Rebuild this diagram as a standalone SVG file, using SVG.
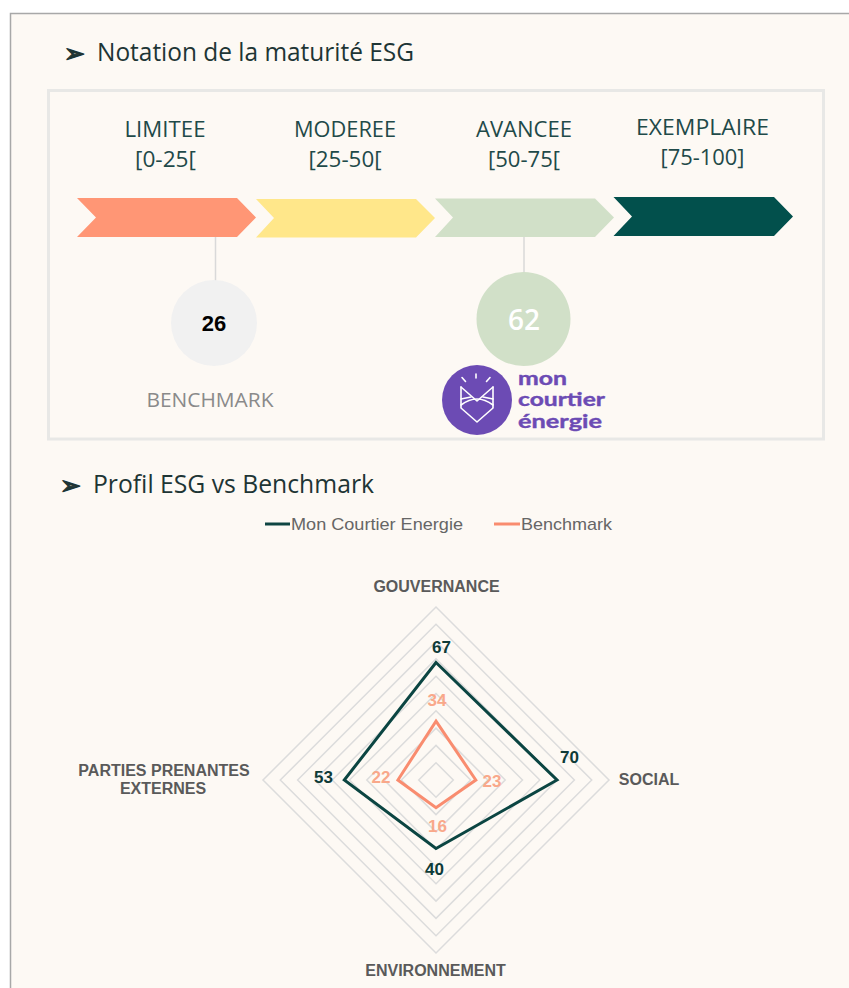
<svg xmlns="http://www.w3.org/2000/svg" width="849" height="988" viewBox="0 0 849 988">
<style>
.h{font-family:"Open Sans","Liberation Sans",sans-serif;font-size:25px;fill:#1e3535}
.bul{font-family:"DejaVu Sans",sans-serif;font-size:25px;fill:#1e3535;stroke:#1e3535;stroke-width:1.2;stroke-linejoin:round}
.cat{font-family:"Open Sans","Liberation Sans",sans-serif;font-size:22px;fill:#1f4a49;text-anchor:middle}
.ax{font-family:"Liberation Sans",Arial,sans-serif;font-weight:bold;font-size:16px;fill:#5a5a5a;text-anchor:middle}
.vd{font-family:"Liberation Sans",Arial,sans-serif;font-weight:bold;font-size:17px;fill:#0e3b38;text-anchor:middle}
.vb{font-family:"Liberation Sans",Arial,sans-serif;font-weight:bold;font-size:17px;fill:#f9a88a;text-anchor:middle}
.leg{font-family:"Liberation Sans",Arial,sans-serif;font-size:17px;fill:#666666}
.ring{fill:none;stroke:#dcdcdc;stroke-width:1.5}
.conn{stroke:#d9d9d9;stroke-width:1.5;fill:none}
.logo{font-family:"Lato","Liberation Sans",sans-serif;font-weight:bold;font-size:19px;fill:#6c4bb4;stroke:#6c4bb4;stroke-width:0.4}
</style>
<rect x="0" y="0" width="849" height="988" fill="#ffffff"/>
<rect x="10.5" y="13.5" width="839" height="975" fill="#fdf9f4"/>
<path d="M10.5,988 V13.5 H849" fill="none" stroke="#a8a8a8" stroke-width="1.5"/>

<g id="title-notation">
<text class="bul" x="64" y="62">➢</text>
<text class="h" x="97" y="61" textLength="317" lengthAdjust="spacingAndGlyphs">Notation de la maturité ESG</text>
</g>

<rect id="scale-box" x="48.5" y="90.5" width="775" height="348.5" fill="#fdf9f4" stroke="#e8e8e6" stroke-width="3"/>

<g id="labels-scale">
<text class="cat" x="165" y="137" textLength="81" lengthAdjust="spacingAndGlyphs">LIMITEE</text>
<text class="cat" x="165.5" y="167" textLength="61" lengthAdjust="spacingAndGlyphs">[0-25[</text>
<text class="cat" x="345" y="137" textLength="102" lengthAdjust="spacingAndGlyphs">MODEREE</text>
<text class="cat" x="345" y="167" textLength="73" lengthAdjust="spacingAndGlyphs">[25-50[</text>
<text class="cat" x="524" y="137" textLength="96" lengthAdjust="spacingAndGlyphs">AVANCEE</text>
<text class="cat" x="524" y="167" textLength="72" lengthAdjust="spacingAndGlyphs">[50-75[</text>
<text class="cat" x="702.5" y="135" textLength="133" lengthAdjust="spacingAndGlyphs">EXEMPLAIRE</text>
<text class="cat" x="702.5" y="165" textLength="84" lengthAdjust="spacingAndGlyphs">[75-100]</text>
</g>

<g id="chevron-limitee"><path d="M77,198 H237 L256,217.5 L237,237 H77 L96,217.5 Z" fill="#ff9675"/></g>
<g id="chevron-moderee"><path d="M256,199 H416 L435,218 L416,237.5 H256 L274,218 Z" fill="#ffe78a"/></g>
<g id="chevron-avancee"><path d="M435,198.5 H595 L614,217.5 L595,237 H435 L453,217.5 Z" fill="#d1e0c8"/></g>
<g id="chevron-exemplaire"><path d="M613.5,197 H774 L793,216.5 L774,236 H613.5 L632,216.5 Z" fill="#02504c"/></g>

<g id="connectors">
<line class="conn" x1="215.5" y1="237" x2="215.5" y2="281"/>
<line class="conn" x1="524" y1="237" x2="524" y2="273"/>
</g>

<g id="node-benchmark">
<circle cx="214" cy="323" r="43" fill="#f1f1f1"/>
<text x="214" y="331" font-family="Liberation Sans,Arial,sans-serif" font-weight="bold" font-size="22" fill="#000" text-anchor="middle">26</text>
<text x="210" y="407" font-family="Open Sans,Liberation Sans,sans-serif" font-size="20" fill="#8a8a8a" text-anchor="middle" textLength="127" lengthAdjust="spacingAndGlyphs">BENCHMARK</text>
</g>

<g id="node-mce">
<circle cx="523.5" cy="319" r="47" fill="#d1e0c8"/>
<text x="524" y="330" font-family="Open Sans,Liberation Sans,sans-serif" font-weight="600" font-size="28" fill="#ffffff" text-anchor="middle">62</text>
</g>

<g id="logo">
<circle cx="477" cy="400" r="35" fill="#6c4bb4"/>
<g fill="none" stroke="#ffffff" stroke-width="1.6" stroke-linecap="round" stroke-linejoin="round">
<path d="M461,387 V408 L477,422 L493,408 V387"/>
<path d="M461,387 L477,401 L493,387"/>
<path d="M461,399 L471,397 M493,399 L483,397"/>
<path d="M461,405 Q477,393 493,405"/>
<path d="M462,377.5 L465.5,381.5 M476,374 V378 M490,377.5 L486.5,381.5"/>
</g>
<text class="logo" x="518" y="385" textLength="49" lengthAdjust="spacingAndGlyphs">mon</text>
<text class="logo" x="518" y="406" textLength="87" lengthAdjust="spacingAndGlyphs">courtier</text>
<text class="logo" x="518" y="428" textLength="84" lengthAdjust="spacingAndGlyphs">énergie</text>
</g>

<g id="title-profil">
<text class="bul" x="60" y="494">➢</text>
<text class="h" x="93" y="493" textLength="281" lengthAdjust="spacingAndGlyphs">Profil ESG vs Benchmark</text>
</g>

<g id="legend">
<line x1="265" y1="524" x2="290" y2="524" stroke="#0e4542" stroke-width="3"/>
<text class="leg" x="291" y="530" textLength="172" lengthAdjust="spacingAndGlyphs">Mon Courtier Energie</text>
<line x1="494" y1="524" x2="520" y2="524" stroke="#f98c6f" stroke-width="3"/>
<text class="leg" x="521" y="530" textLength="91" lengthAdjust="spacingAndGlyphs">Benchmark</text>
</g>

<g id="radar-grid">
<polygon class="ring" points="436,762.7 453.3,780 436,797.3 418.7,780"/>
<polygon class="ring" points="436,745.4 470.6,780 436,814.6 401.4,780"/>
<polygon class="ring" points="436,728.1 487.9,780 436,831.9 384.1,780"/>
<polygon class="ring" points="436,710.8 505.2,780 436,849.2 366.8,780"/>
<polygon class="ring" points="436,693.5 522.5,780 436,866.5 349.5,780"/>
<polygon class="ring" points="436,676.2 539.8,780 436,883.8 332.2,780"/>
<polygon class="ring" points="436,658.9 557.1,780 436,901.1 314.9,780"/>
<polygon class="ring" points="436,641.6 574.4,780 436,918.4 297.6,780"/>
<polygon class="ring" points="436,624.3 591.7,780 436,935.7 280.3,780"/>
<polygon class="ring" points="436,607 609,780 436,953 263,780"/>
</g>

<g id="series-benchmark">
<polygon points="436,721.2 475.8,780 436,807.7 397.9,780" fill="none" stroke="#f98c6f" stroke-width="3" stroke-linejoin="miter"/>
</g>
<g id="series-mce">
<polygon points="436,662.5 557,780 436,848.5 344.3,780" fill="none" stroke="#0b4542" stroke-width="3" stroke-linejoin="miter"/>
</g>

<g id="values">
<text class="vd" x="441.5" y="653">67</text>
<text class="vd" x="569.5" y="763">70</text>
<text class="vd" x="434.5" y="875">40</text>
<text class="vd" x="323.5" y="782.5">53</text>
<text class="vb" x="437" y="706">34</text>
<text class="vb" x="492" y="786.5">23</text>
<text class="vb" x="437.5" y="831.5">16</text>
<text class="vb" x="381" y="782.5">22</text>
</g>

<g id="axis-labels">
<text class="ax" x="436.5" y="592">GOUVERNANCE</text>
<text class="ax" x="649" y="785">SOCIAL</text>
<text class="ax" x="164" y="776">PARTIES PRENANTES</text>
<text class="ax" x="163" y="794">EXTERNES</text>
<text class="ax" x="435.5" y="976">ENVIRONNEMENT</text>
</g>
</svg>
